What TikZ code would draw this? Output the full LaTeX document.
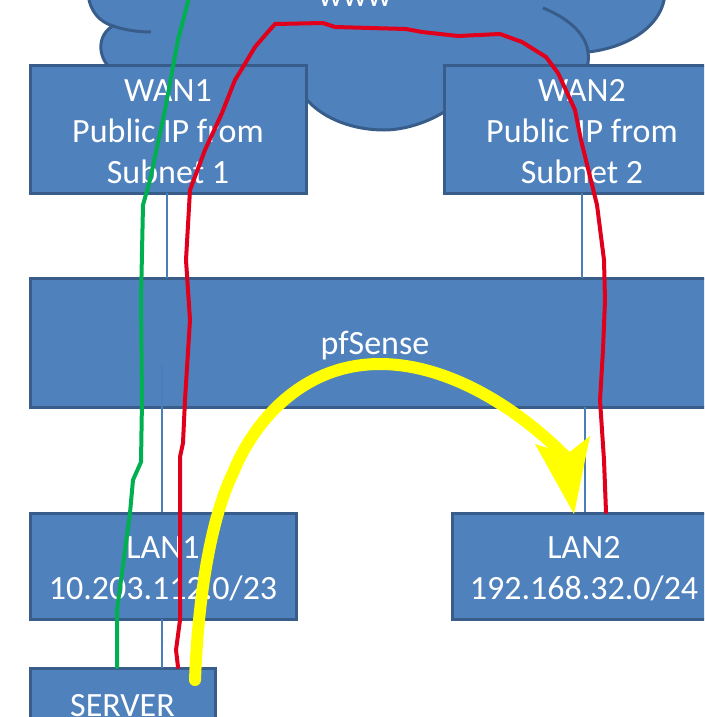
\documentclass[tikz,border=0pt]{standalone}
\usepackage{fontspec}
\setmainfont{Carlito}
\definecolor{boxfill}{HTML}{4F81BD}
\definecolor{boxline}{HTML}{385D8A}
\definecolor{linkline}{HTML}{4A7EBB}
\definecolor{routegreen}{HTML}{00B050}
\definecolor{routered}{HTML}{E0001B}
\definecolor{swing}{HTML}{FFFF00}
\newcommand{\firstline}{\rule{0pt}{31pt}}
\begin{document}
\begin{tikzpicture}[x=1pt,y=-1pt,
		every node/.style={draw=boxline,fill=boxfill,line width=3pt,inner sep=0pt,align=center,text=white,
			font=\fontsize{34}{41}\selectfont,
			execute at begin node={\rule{0pt}{29pt}},execute at end node={\rule[-6pt]{0pt}{6pt}}},
		link/.style={linkline,line width=1.2pt},
		route/.style={line width=4pt,line join=round,line cap=round}]
	\useasboundingbox (0,0) rectangle (704,717);
	\clip (0,0) rectangle (704,717);
	% cloud
	\draw[fill=boxfill,draw=boxline,line width=3pt]
		(88,-6) .. controls (90,12) and (100,22) .. (113,26)
		.. controls (98,34) and (96,56) .. (112,70)
		-- (307,100) .. controls (325,120) and (355,130) .. (384,130)
		.. controls (405,130) and (428,122) .. (444,112)
		-- (586,70) .. controls (588,66) and (589,60) .. (588,52)
		.. controls (625,48) and (662,28) .. (665,-6) -- cycle;
	\draw[boxline,line width=3pt] (113,26) .. controls (125,30) and (138,32) .. (151,32);
	\draw[boxline,line width=3pt] (543,8) .. controls (566,17) and (586,33) .. (588,52);
	\node[draw=none,fill=none] (www) at (355,-4.5) {www};
	% boxes
	\node[minimum width=276pt,minimum height=127pt] (wan1) at (168,129.5) {\firstline WAN1\\Public IP from\\Subnet 1};
	\node[minimum width=276pt,minimum height=127pt] (wan2) at (582,129.5) {\firstline WAN2\\Public IP from\\Subnet 2};
	\node[minimum width=690pt,minimum height=129pt] (pfsense) at (375,342.5) {pfSense};
	\node[minimum width=266pt,minimum height=106pt] (lan1) at (163,566) {\firstline LAN1\\10.203.112.0/23};
	\node[minimum width=264pt,minimum height=106pt] (lan2) at (584,566) {\firstline LAN2\\192.168.32.0/24};
	\node[minimum width=185pt,minimum height=74pt] (server) at (122.5,705) {SERVER};
	% links
	\coordinate (pfleft) at (162,365);
	\draw[link] (167,193) -- (167,278);
	\draw[link] (582,193) -- (582,278);
	\draw[link] (pfleft) -- (162,512);
	\draw[link] (585,407) -- (585,512);
	\draw[link] (162,619) -- (162,668);
	% routes
	\coordinate (greenend) at (189,-2);
	\coordinate (greenstart) at (117,667);
	\draw[route,routegreen] (greenstart) -- (117,610) -- (130,513) -- (133,480) -- (141,462) -- (142,400)
		-- (141,300) -- (143,205) -- (150,180) -- (165,110) -- (178,40) -- (greenend);
	\coordinate (redstart) at (178,667);
	\coordinate (redend) at (606,512);
	\draw[route,routered] (redstart) -- (176,650) -- (180,620) -- (180,457) -- (183,443) -- (185,400)
		-- (190,320) -- (186,260) -- (190,190) -- (205,150) -- (222,113) -- (235,80) -- (243,67) -- (255,47)
		-- (267,33) -- (275,24) -- (323,23)
		-- (335,27) -- (406,29) -- (422,32) -- (458,36) -- (500,34) -- (522,42) -- (546,57) -- (558,73)
		-- (575,110) -- (581,140) -- (597,205) -- (604,260) -- (605,300) -- (603,350) -- (600,400) -- (604,460) -- (redend);
	\coordinate (swingstart) at (195,680);
	\coordinate (swingtip) at (574,514);
	\draw[swing,line width=12pt,line cap=round] (swingstart) .. controls (198,600) and (210,520) .. (233,473)
		.. controls (252,425) and (300,364) .. (380,364)
		.. controls (450,364) and (520,410) .. (567,458);
	\fill[swing] (swingtip) -- (535,444) -- (567,454) -- (590,436) -- cycle;
\end{tikzpicture}
\end{document}
